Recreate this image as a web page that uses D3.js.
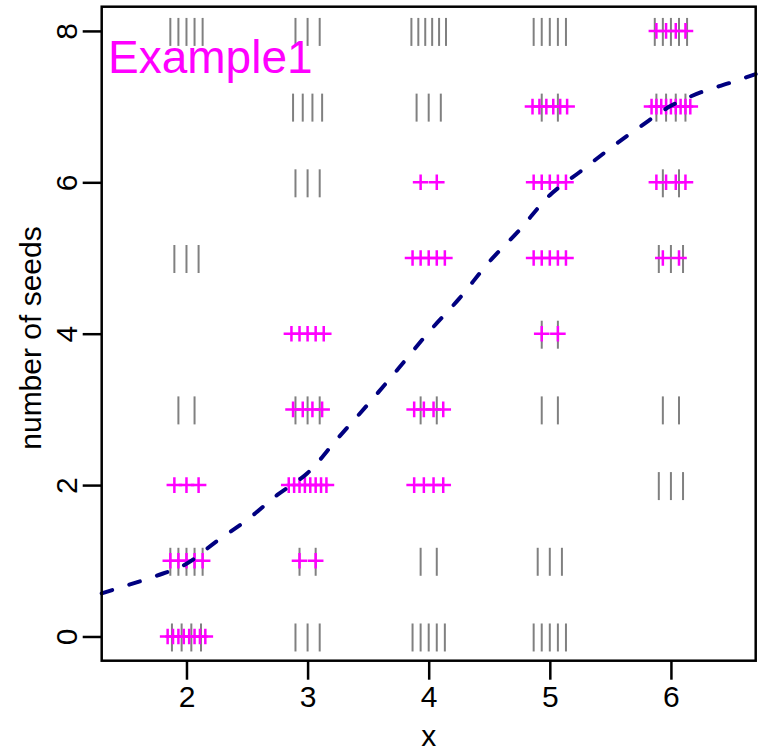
<!DOCTYPE html>
<html>
<head>
<meta charset="utf-8">
<script src="https://cdn.jsdelivr.net/npm/d3@7"></script>
<style>
  body { margin: 0; background: #fff; }
  text { font-family: "Liberation Sans", Arial, Helvetica, sans-serif; }
</style>
</head>
<body>
<script>
// x positions of the columns and y levels (number of seeds)
var xLevels = [2, 3, 4, 5, 6];
var yLevels = [0, 1, 2, 3, 4, 5, 6, 7, 8];

// counts of grey "|" marks, one row per y level, one column per x level
var greyCounts = [
  [4, 3, 5, 5, 0],
  [5, 2, 2, 3, 0],
  [0, 0, 0, 0, 3],
  [2, 3, 2, 2, 2],
  [0, 0, 0, 2, 0],
  [3, 0, 0, 0, 3],
  [0, 3, 0, 0, 2],
  [0, 4, 3, 2, 4],
  [5, 3, 6, 5, 5]
];

// counts of magenta "+" marks
var plusCounts = [
  [8, 0, 0, 0, 0],
  [5, 2, 0, 0, 0],
  [3, 8, 4, 0, 0],
  [0, 4, 4, 0, 0],
  [0, 5, 0, 2, 0],
  [0, 0, 5, 5, 2],
  [0, 0, 2, 5, 4],
  [0, 0, 0, 6, 9],
  [0, 0, 0, 0, 4]
];

// dashed fitted curve
var curveX = [1.3, 1.5, 1.75, 2.0, 2.25, 2.5, 2.75, 3.0, 3.25, 3.5, 3.75, 4.0,
              4.25, 4.5, 4.75, 5.0, 5.25, 5.5, 5.75, 6.0, 6.25, 6.5, 6.7];
var curveY = [0.57, 0.67, 0.80, 0.96, 1.26, 1.54, 1.87, 2.16, 2.62, 3.07, 3.54, 4.02,
              4.46, 4.95, 5.37, 5.83, 6.14, 6.45, 6.74, 7.01, 7.19, 7.32, 7.43];

var xTicks = [2, 3, 4, 5, 6];
var yTicks = [0, 2, 4, 6, 8];

var width = 759,
    height = 751;
var plot = {left: 101.7, right: 755.7, top: 6.7, bottom: 660.7};

var svg = d3.select("body")
    .append("svg")
    .attr("width", width)
    .attr("height", height);

var x = d3.scaleLinear().domain([1.3, 6.7]).range([plot.left, plot.right]);
var y = d3.scaleLinear().domain([-0.32, 8.32]).range([plot.bottom, plot.top]);

// spread n marks evenly inside +-0.2 around the column
function offsets(n) {
  var out = [];
  for (var i = 1; i <= n; i++) out.push((i / (n + 1) - 0.5) * 0.4);
  return out;
}

function expand(counts) {
  var pts = [];
  counts.forEach(function(row, yi) {
    row.forEach(function(n, xi) {
      offsets(n).forEach(function(o) {
        pts.push({x: xLevels[xi] + o, y: yLevels[yi]});
      });
    });
  });
  return pts;
}

// grey bars
svg.selectAll(".bar")
    .data(expand(greyCounts))
    .enter()
    .append("line")
    .attr("class", "bar")
    .attr("x1", function(d) { return x(d.x); })
    .attr("x2", function(d) { return x(d.x); })
    .attr("y1", function(d) { return y(d.y) - 13; })
    .attr("y2", function(d) { return y(d.y) + 15; })
    .attr("stroke", "#808080")
    .attr("stroke-width", 2);

// magenta pluses
svg.selectAll(".plus")
    .data(expand(plusCounts))
    .enter()
    .append("path")
    .attr("class", "plus")
    .attr("transform", function(d) { return "translate(" + x(d.x) + "," + y(d.y) + ")"; })
    .attr("d", "M-7.8,0H7.8M0,-7.8V7.8")
    .attr("stroke", "#ff00ff")
    .attr("stroke-width", 2.5)
    .attr("fill", "none");

// curve
var line = d3.line()
    .x(function(d) { return x(d[0]); })
    .y(function(d) { return y(d[1]); })
    .curve(d3.curveCatmullRom);

svg.append("path")
    .datum(d3.zip(curveX, curveY))
    .attr("d", line)
    .attr("fill", "none")
    .attr("stroke", "#000080")
    .attr("stroke-width", 4)
    .attr("stroke-linecap", "round")
    .attr("stroke-dasharray", "11,18");

// frame
svg.append("rect")
    .attr("x", plot.left)
    .attr("y", plot.top)
    .attr("width", plot.right - plot.left)
    .attr("height", plot.bottom - plot.top)
    .attr("fill", "none")
    .attr("stroke", "#000")
    .attr("stroke-width", 2.5);

// axes
var xAxis = d3.axisBottom(x).tickValues(xTicks).tickSize(19).tickPadding(6).tickFormat(d3.format("d"));
var gx = svg.append("g")
    .attr("transform", "translate(0," + plot.bottom + ")")
    .call(xAxis);
gx.select(".domain").remove();
gx.selectAll(".tick line").attr("stroke", "#000").attr("stroke-width", 2.5);
gx.selectAll(".tick text")
    .attr("font-size", 30)
    .attr("fill", "#000")
    .attr("dy", "0.71em")
    .attr("font-family", "Liberation Sans, Arial, sans-serif");

var yAxis = d3.axisLeft(y).tickValues(yTicks).tickSize(19).tickFormat(d3.format("d"));
var gy = svg.append("g")
    .attr("transform", "translate(" + plot.left + ",0)")
    .call(yAxis);
gy.select(".domain").remove();
gy.selectAll(".tick line").attr("stroke", "#000").attr("stroke-width", 2.5);
gy.selectAll(".tick text")
    .attr("font-size", 30)
    .attr("fill", "#000")
    .attr("x", null)
    .attr("dy", null)
    .attr("text-anchor", "middle")
    .attr("font-family", "Liberation Sans, Arial, sans-serif")
    .attr("transform", "translate(-25,0) rotate(-90)");

// axis titles
svg.append("text")
    .attr("x", (plot.left + plot.right) / 2)
    .attr("y", 746)
    .attr("text-anchor", "middle")
    .attr("font-size", 30)
    .text("x");

svg.append("text")
    .attr("transform", "translate(41,338) rotate(-90)")
    .attr("text-anchor", "middle")
    .attr("font-size", 30)
    .text("number of seeds");

// label
svg.append("text")
    .attr("x", 108)
    .attr("y", 73)
    .attr("fill", "#ff00ff")
    .attr("font-size", 46)
    .text("Example1");
</script>
</body>
</html>
